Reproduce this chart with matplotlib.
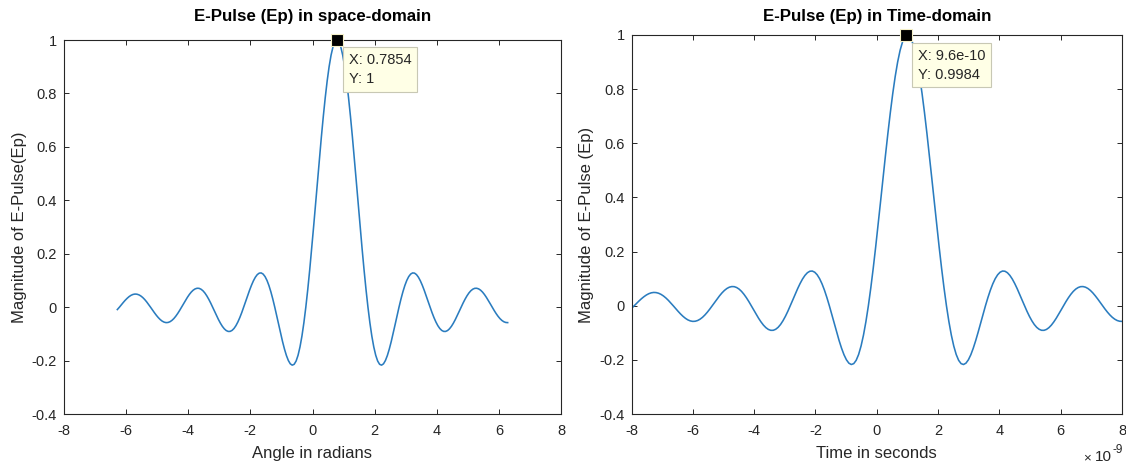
import matplotlib
matplotlib.use("Agg")
import matplotlib.pyplot as plt
from matplotlib.ticker import FuncFormatter, MultipleLocator
import numpy as np

plt.rcParams['font.family'] = ['Liberation Sans', 'DejaVu Sans']
plt.rcParams['axes.unicode_minus'] = False

# ---------------- data ----------------
angle_rad = [-6.283,
    -6.215, -6.1525, -6.09, -6.0275, -5.965, -5.9025, -5.84, -5.7775, -5.715, -5.6525,
    -5.59, -5.5275, -5.465, -5.4025, -5.34, -5.2775, -5.215, -5.1525, -5.09, -5.0275,
    -4.965, -4.9025, -4.84, -4.7775, -4.715, -4.6525, -4.59, -4.5275, -4.465, -4.4025,
    -4.34, -4.2775, -4.215, -4.1525, -4.09, -4.0275, -3.965, -3.9025, -3.84, -3.7775,
    -3.715, -3.6525, -3.59, -3.5275, -3.465, -3.4025, -3.34, -3.2775, -3.215, -3.1525,
    -3.09, -3.0275, -2.965, -2.9025, -2.84, -2.7775, -2.715, -2.6525, -2.59, -2.5275,
    -2.465, -2.4025, -2.34, -2.2775, -2.215, -2.1525, -2.09, -2.0275, -1.965, -1.9025,
    -1.84, -1.7775, -1.715, -1.6525, -1.59, -1.5275, -1.465, -1.4025, -1.34, -1.2775,
    -1.215, -1.1525, -1.09, -1.0275, -0.965, -0.9025, -0.84, -0.7775, -0.715, -0.6525,
    -0.59, -0.5275, -0.465, -0.4025, -0.34, -0.2775, -0.215, -0.1525, -0.09, -0.0275,
    0.035, 0.0975, 0.16, 0.2225, 0.285, 0.3475, 0.41, 0.4725, 0.535, 0.5975,
    0.66, 0.7225, 0.785, 0.8475, 0.91, 0.9725, 1.035, 1.0975, 1.16, 1.2225,
    1.285, 1.3475, 1.41, 1.4725, 1.535, 1.5975, 1.66, 1.7225, 1.785, 1.8475,
    1.91, 1.9725, 2.035, 2.0975, 2.16, 2.2225, 2.285, 2.3475, 2.41, 2.4725,
    2.535, 2.5975, 2.66, 2.7225, 2.785, 2.8475, 2.91, 2.9725, 3.035, 3.0975,
    3.16, 3.2225, 3.285, 3.3475, 3.41, 3.4725, 3.535, 3.5975, 3.66, 3.7225,
    3.785, 3.8475, 3.91, 3.9725, 4.035, 4.0975, 4.16, 4.2225, 4.285, 4.3475,
    4.41, 4.4725, 4.535, 4.5975, 4.66, 4.7225, 4.785, 4.8475, 4.91, 4.9725,
    5.035, 5.0975, 5.16, 5.2225, 5.285, 5.3475, 5.41, 5.4725, 5.535, 5.5975,
    5.66, 5.7225, 5.785, 5.8475, 5.91, 5.9725, 6.035, 6.0975, 6.16, 6.2225,
    6.283]

space_ep = [-0.009,
    0.0, 0.0090, 0.0177, 0.0260, 0.0333, 0.0396, 0.0444, 0.0476, 0.0490, 0.0485,
    0.0461, 0.0419, 0.0360, 0.0286, 0.0199, 0.0102, 0.0, -0.0105, -0.0207, -0.0304,
    -0.0391, -0.0465, -0.0523, -0.0561, -0.0579, -0.0574, -0.0547, -0.0498, -0.0429, -0.0341,
    -0.0238, -0.0123, 0.0, 0.0126, 0.0250, 0.0367, 0.0474, 0.0565, 0.0636, 0.0684,
    0.0707, 0.0704, 0.0672, 0.0614, 0.0530, 0.0422, 0.0295, 0.0153, 0.0, -0.0158,
    -0.0314, -0.0464, -0.0600, -0.0718, -0.0811, -0.0876, -0.0909, -0.0908, -0.0871, -0.0799,
    -0.0693, -0.0555, -0.0390, -0.0203, 0.0, 0.0211, 0.0424, 0.0629, 0.0818, 0.0985,
    0.1120, 0.1218, 0.1273, 0.1281, 0.1238, 0.1144, 0.1000, 0.0808, 0.0573, 0.0301,
    0.0, -0.0321, -0.0650, -0.0976, -0.1286, -0.1568, -0.1810, -0.1998, -0.2122, -0.2172,
    -0.2139, -0.2017, -0.1801, -0.1489, -0.1083, -0.0584, 0.0, 0.0662, 0.1392, 0.2177,
    0.3001, 0.3850, 0.4705, 0.5550, 0.6366, 0.7136, 0.7842, 0.8469, 0.9003, 0.9432,
    0.9745, 0.9936, 1.0, 0.9936, 0.9745, 0.9432, 0.9003, 0.8469, 0.7842, 0.7136,
    0.6366, 0.5550, 0.4705, 0.3850, 0.3001, 0.2177, 0.1392, 0.0662, 0.0, -0.0584,
    -0.1083, -0.1489, -0.1801, -0.2017, -0.2139, -0.2172, -0.2122, -0.1998, -0.1810, -0.1568,
    -0.1286, -0.0976, -0.0650, -0.0321, 0.0, 0.0301, 0.0573, 0.0808, 0.1000, 0.1144,
    0.1238, 0.1281, 0.1273, 0.1218, 0.1120, 0.0985, 0.0818, 0.0629, 0.0424, 0.0211,
    0.0, -0.0203, -0.0390, -0.0555, -0.0693, -0.0799, -0.0871, -0.0908, -0.0909, -0.0876,
    -0.0811, -0.0718, -0.0600, -0.0464, -0.0314, -0.0158, 0.0, 0.0153, 0.0295, 0.0422,
    0.0530, 0.0614, 0.0672, 0.0704, 0.0707, 0.0684, 0.0636, 0.0565, 0.0474, 0.0367,
    0.0250, 0.0126, 0.0, -0.0123, -0.0238, -0.0341, -0.0429, -0.0498, -0.0547, -0.0574,
    -0.0579]

time_ns = [-8.0,
    -7.9127, -7.8331, -7.7535, -7.6739, -7.5944, -7.5148, -7.4352, -7.3556, -7.2761, -7.1965,
    -7.1169, -7.0373, -6.9577, -6.8782, -6.7986, -6.7190, -6.6394, -6.5599, -6.4803, -6.4007,
    -6.3211, -6.2416, -6.1620, -6.0824, -6.0028, -5.9232, -5.8437, -5.7641, -5.6845, -5.6049,
    -5.5254, -5.4458, -5.3662, -5.2866, -5.2070, -5.1275, -5.0479, -4.9683, -4.8887, -4.8092,
    -4.7296, -4.6500, -4.5704, -4.4908, -4.4113, -4.3317, -4.2521, -4.1725, -4.0930, -4.0134,
    -3.9338, -3.8542, -3.7746, -3.6951, -3.6155, -3.5359, -3.4563, -3.3768, -3.2972, -3.2176,
    -3.1380, -3.0585, -2.9789, -2.8993, -2.8197, -2.7401, -2.6606, -2.5810, -2.5014, -2.4218,
    -2.3423, -2.2627, -2.1831, -2.1035, -2.0239, -1.9444, -1.8648, -1.7852, -1.7056, -1.6261,
    -1.5465, -1.4669, -1.3873, -1.3077, -1.2282, -1.1486, -1.0690, -0.9894, -0.9099, -0.8303,
    -0.7507, -0.6711, -0.5915, -0.5120, -0.4324, -0.3528, -0.2732, -0.1937, -0.1141, -0.0345,
    0.0451, 0.1246, 0.2042, 0.2838, 0.3634, 0.4430, 0.5225, 0.6021, 0.6817, 0.7613,
    0.8408, 0.9204, 1.0, 1.0796, 1.1592, 1.2387, 1.3183, 1.3979, 1.4775, 1.5570,
    1.6366, 1.7162, 1.7958, 1.8754, 1.9549, 2.0345, 2.1141, 2.1937, 2.2732, 2.3528,
    2.4324, 2.5120, 2.5915, 2.6711, 2.7507, 2.8303, 2.9099, 2.9894, 3.0690, 3.1486,
    3.2282, 3.3077, 3.3873, 3.4669, 3.5465, 3.6261, 3.7056, 3.7852, 3.8648, 3.9444,
    4.0239, 4.1035, 4.1831, 4.2627, 4.3423, 4.4218, 4.5014, 4.5810, 4.6606, 4.7401,
    4.8197, 4.8993, 4.9789, 5.0585, 5.1380, 5.2176, 5.2972, 5.3768, 5.4563, 5.5359,
    5.6155, 5.6951, 5.7746, 5.8542, 5.9338, 6.0134, 6.0930, 6.1725, 6.2521, 6.3317,
    6.4113, 6.4908, 6.5704, 6.6500, 6.7296, 6.8092, 6.8887, 6.9683, 7.0479, 7.1275,
    7.2070, 7.2866, 7.3662, 7.4458, 7.5254, 7.6049, 7.6845, 7.7641, 7.8437, 7.9232,
    8.0]

time_ep = [-0.010,
    0.0, 0.0090, 0.0177, 0.0260, 0.0333, 0.0396, 0.0444, 0.0476, 0.0490, 0.0485,
    0.0461, 0.0419, 0.0360, 0.0286, 0.0199, 0.0102, 0.0, -0.0105, -0.0207, -0.0304,
    -0.0391, -0.0465, -0.0523, -0.0561, -0.0579, -0.0574, -0.0547, -0.0498, -0.0429, -0.0341,
    -0.0238, -0.0123, 0.0, 0.0126, 0.0250, 0.0367, 0.0474, 0.0565, 0.0636, 0.0684,
    0.0707, 0.0704, 0.0672, 0.0614, 0.0530, 0.0422, 0.0295, 0.0153, 0.0, -0.0158,
    -0.0314, -0.0464, -0.0600, -0.0718, -0.0811, -0.0876, -0.0909, -0.0908, -0.0871, -0.0799,
    -0.0693, -0.0555, -0.0390, -0.0203, 0.0, 0.0211, 0.0424, 0.0629, 0.0818, 0.0985,
    0.1120, 0.1218, 0.1273, 0.1281, 0.1238, 0.1144, 0.1000, 0.0808, 0.0573, 0.0301,
    0.0, -0.0321, -0.0650, -0.0976, -0.1286, -0.1568, -0.1810, -0.1998, -0.2122, -0.2172,
    -0.2139, -0.2017, -0.1801, -0.1489, -0.1083, -0.0584, 0.0, 0.0662, 0.1392, 0.2177,
    0.3001, 0.3850, 0.4705, 0.5550, 0.6366, 0.7136, 0.7842, 0.8469, 0.9003, 0.9432,
    0.9745, 0.9936, 1.0, 0.9936, 0.9745, 0.9432, 0.9003, 0.8469, 0.7842, 0.7136,
    0.6366, 0.5550, 0.4705, 0.3850, 0.3001, 0.2177, 0.1392, 0.0662, 0.0, -0.0584,
    -0.1083, -0.1489, -0.1801, -0.2017, -0.2139, -0.2172, -0.2122, -0.1998, -0.1810, -0.1568,
    -0.1286, -0.0976, -0.0650, -0.0321, 0.0, 0.0301, 0.0573, 0.0808, 0.1000, 0.1144,
    0.1238, 0.1281, 0.1273, 0.1218, 0.1120, 0.0985, 0.0818, 0.0629, 0.0424, 0.0211,
    0.0, -0.0203, -0.0390, -0.0555, -0.0693, -0.0799, -0.0871, -0.0908, -0.0909, -0.0876,
    -0.0811, -0.0718, -0.0600, -0.0464, -0.0314, -0.0158, 0.0, 0.0153, 0.0295, 0.0422,
    0.0530, 0.0614, 0.0672, 0.0704, 0.0707, 0.0684, 0.0636, 0.0565, 0.0474, 0.0367,
    0.0250, 0.0126, 0.0, -0.0123, -0.0238, -0.0341, -0.0429, -0.0498, -0.0547, -0.0574,
    -0.0579]

space_tip = (0.7854, 1.0)
time_tip = (9.6e-10, 0.9984)
space_tip_text = "X: 0.7854\nY: 1"
time_tip_text = "X: 9.6e-10\nY: 0.9984"

titles = ["E-Pulse (Ep) in space-domain", "E-Pulse (Ep) in Time-domain"]
xlabels = ["Angle in radians", "Time in seconds"]
ylabels = ["Magnitude of E-Pulse(Ep)", "Magnitude of E-Pulse (Ep)"]

# ---------------- styling ----------------
W, H = 1126, 465
AX_COL = '#262626'
LINE_COL = '#2A7CBF'
TICK_FS = 10.5
LABEL_FS = 12
TITLE_FS = 12.2
TIP_FS = 10.5

fig = plt.figure(figsize=(W / 100, H / 100), dpi=100)
fig.patch.set_facecolor('white')

ax1 = fig.add_axes([64 / W, 1 - 414 / H, (561 - 64) / W, (414 - 40) / H])
ax2 = fig.add_axes([631.5 / W, 1 - 414 / H, (1122 - 631.5) / W, (414 - 35) / H])


def style(ax):
    for sp in ax.spines.values():
        sp.set_color(AX_COL)
        sp.set_linewidth(0.8)
    ax.tick_params(axis='both', which='both', direction='in', length=3.6, width=0.7,
                   colors=AX_COL, labelsize=TICK_FS, top=True, right=True)
    ax.tick_params(axis='x', pad=7.5)
    ax.tick_params(axis='y', pad=5)
    ax.set_ylim(-0.4, 1.0)
    ax.yaxis.set_major_locator(MultipleLocator(0.2))
    ax.yaxis.set_major_formatter(FuncFormatter(lambda v, p: '%g' % round(v, 6)))


# left panel
ax1.plot(angle_rad, space_ep, color=LINE_COL, lw=1.15)
ax1.set_xlim(-8, 8)
style(ax1)
ax1.xaxis.set_major_locator(MultipleLocator(2))
ax1.xaxis.set_major_formatter(FuncFormatter(lambda v, p: '%g' % round(v, 6)))

# right panel (seconds)
t_sec = np.array(time_ns) * 1e-9
ax2.plot(t_sec, time_ep, color=LINE_COL, lw=1.15)
ax2.set_xlim(-8e-9, 8e-9)
style(ax2)
ax2.xaxis.set_major_locator(MultipleLocator(2e-9))
ax2.xaxis.set_major_formatter(FuncFormatter(lambda v, p: '%g' % round(v * 1e9, 6)))

# titles / labels
for ax, t, xl, yl, top in [(ax1, titles[0], xlabels[0], ylabels[0], 40),
                           (ax2, titles[1], xlabels[1], ylabels[1], 35)]:
    h = 414 - top
    ax.set_title(t, fontsize=TITLE_FS, fontweight='bold', color='black',
                 y=(414 - 17) / h, va='center', pad=0)
    ax.set_xlabel(xl, fontsize=LABEL_FS, color=AX_COL, va='center')
    ax.xaxis.set_label_coords(0.5, (414 - 453) / h)
    ax.set_ylabel(yl, fontsize=LABEL_FS, color=AX_COL, va='center')

ax1.yaxis.set_label_coords((20 - 64) / 497, 0.5)
ax2.yaxis.set_label_coords((587 - 631.5) / 490.5, 0.5)

# exponent label for time axis (MATLAB style "x10^-9")
fig.text(1091 / W, 1 - 458 / H, '\u00d7', ha='right', va='center',
         fontsize=9.5, color=AX_COL)
fig.text(1112 / W, 1 - 457 / H, '10', ha='right', va='center',
         fontsize=11, color=AX_COL)
fig.text(1112.5 / W, 1 - 450 / H, '-9', ha='left', va='center',
         fontsize=8.5, color=AX_COL)

# data tips
for ax, (tx, ty), txt in [(ax1, space_tip, space_tip_text), (ax2, time_tip, time_tip_text)]:
    ax.plot([tx], [ty], marker='s', markersize=8, color='black',
            markeredgecolor='#F5F0C8', markeredgewidth=0.8, clip_on=False, zorder=5)
    ax.annotate(txt, xy=(tx, ty), xytext=(8.6, -9.5), textcoords='offset points',
                ha='left', va='top', fontsize=TIP_FS, color=AX_COL, linespacing=1.45,
                bbox=dict(boxstyle='square,pad=0.4', facecolor='#FFFFE6',
                          edgecolor='#C8C8B4', linewidth=0.8),
                annotation_clip=False, zorder=6)

fig.savefig('out.png', dpi=100, facecolor='white')
